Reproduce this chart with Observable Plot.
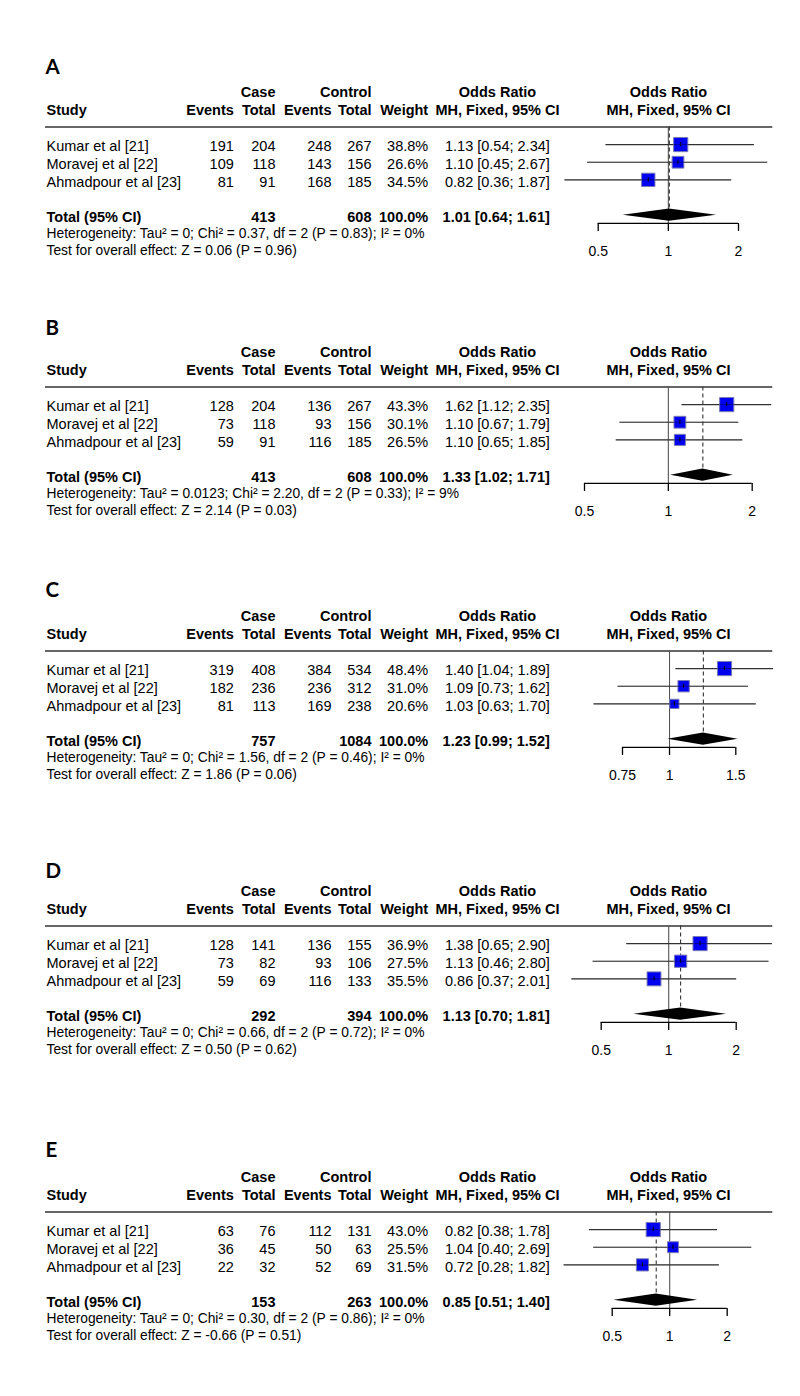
<!DOCTYPE html>
<html><head><meta charset="utf-8">
<script src="https://cdn.jsdelivr.net/npm/d3@7"></script>
<script src="https://cdn.jsdelivr.net/npm/@observablehq/plot@0.6"></script>
<style>
body{margin:0;background:#fff;}
#root{position:relative;width:800px;height:1396px;background:#fff;overflow:hidden;}
#root svg{position:absolute;left:0;background:none;}
</style></head><body><div id="root"></div>
<script>
// ---------- data ----------
const panelLabels = ["A", "B", "C", "D", "E"];
const studies = ["Kumar et al [21]", "Moravej et al [22]", "Ahmadpour et al [23]"];
const caseEvents = [[191, 109, 81], [128, 73, 59], [319, 182, 81], [128, 73, 59], [63, 36, 22]];
const caseTotal  = [[204, 118, 91], [204, 118, 91], [408, 236, 113], [141, 82, 69], [76, 45, 32]];
const ctrlEvents = [[248, 143, 168], [136, 93, 116], [384, 236, 169], [136, 93, 116], [112, 50, 52]];
const ctrlTotal  = [[267, 156, 185], [267, 156, 185], [534, 312, 238], [155, 106, 133], [131, 63, 69]];
const weights    = [[38.8, 26.6, 34.5], [43.3, 30.1, 26.5], [48.4, 31.0, 20.6], [36.9, 27.5, 35.5], [43.0, 25.5, 31.5]];
const oddsRatio  = [[1.13, 1.10, 0.82], [1.62, 1.10, 1.10], [1.40, 1.09, 1.03], [1.38, 1.13, 0.86], [0.82, 1.04, 0.72]];
const ciLower    = [[0.54, 0.45, 0.36], [1.12, 0.67, 0.65], [1.04, 0.73, 0.63], [0.65, 0.46, 0.37], [0.38, 0.40, 0.28]];
const ciUpper    = [[2.34, 2.67, 1.87], [2.35, 1.79, 1.85], [1.89, 1.62, 1.70], [2.90, 2.80, 2.01], [1.78, 2.69, 1.82]];
const totalCase  = [413, 413, 757, 292, 153];
const totalCtrl  = [608, 608, 1084, 394, 263];
const totalOR    = [1.01, 1.33, 1.23, 1.13, 0.85];
const totalLower = [0.64, 1.02, 0.99, 0.70, 0.51];
const totalUpper = [1.61, 1.71, 1.52, 1.81, 1.40];
const hetTau2    = ["0", "0.0123", "0", "0", "0"];
const hetChi2    = ["0.37", "2.20", "1.56", "0.66", "0.30"];
const hetDf      = [2, 2, 2, 2, 2];
const hetP       = ["0.83", "0.33", "0.46", "0.72", "0.86"];
const hetI2      = ["0%", "9%", "0%", "0%", "0%"];
const testZ      = ["0.06", "2.14", "1.86", "0.50", "-0.66"];
const testP      = ["0.96", "0.03", "0.06", "0.62", "0.51"];
const tickValues = [[0.5, 1, 2], [0.5, 1, 2], [0.75, 1, 1.5], [0.5, 1, 2], [0.5, 1, 2]];

// ---------- layout ----------
const rowPx = 17.65;
const yDomain = [-4.5, 8];
const row1Px = [144, 404, 668.3, 942.7, 1229];
const letterRow = [-3.35, -3.31, -3.44, -3.08, -3.48];
const tickPx = [[597.7, 738], [584, 751.7], [622, 735.3], [600.7, 735.7], [611.7, 726.7]];
const font = "'Liberation Sans', Arial, sans-serif";
const col = {study: 46, caseEv: 233.3, caseTot: 275, ctrlEv: 331, ctrlTot: 371, weight: 427.7, or: 549.3, orCenter: 497, forestCenter: 668};

const fmt2 = v => v.toFixed(2);
const root = document.getElementById("root");

panelLabels.forEach((label, p) => {
  const rows = studies.map((s, i) => ({
    row: i + 1, study: s,
    ce: caseEvents[p][i], ct: caseTotal[p][i], xe: ctrlEvents[p][i], xt: ctrlTotal[p][i],
    w: weights[p][i], or: oddsRatio[p][i], lo: ciLower[p][i], hi: ciUpper[p][i]
  }));
  const totalRow = 5, hetRow = 5.95, testRow = 6.87, axisRow = 5.47, labelRow = 7.02;
  const dh = 0.35;
  const diamond = [
    {y: totalRow - dh, x1: totalOR[p], x2: totalOR[p]},
    {y: totalRow, x1: totalLower[p], x2: totalUpper[p]},
    {y: totalRow + dh, x1: totalOR[p], x2: totalOR[p]}
  ];
  const ticks = tickValues[p];

  const T = (data, o) => Plot.text(data, {
    frameAnchor: "left", dx: o.x, y: o.y, text: o.text,
    textAnchor: o.anchor || "end", fontWeight: o.bold ? 700 : 400,
    fontSize: o.size || 14.5, fontFamily: o.family || font, fill: "#000", dy: o.dy ?? 2
  });
  const one = (t, o) => T([t], {...o, text: d => d});

  const marks = [
    // panel letter
    one(label, {x: 45, y: letterRow[p], anchor: "start", bold: true, size: 20.5, family: "Lato, 'Open Sans', sans-serif", dy: 0}),
    // headers
    one("Case", {x: col.caseTot, y: -2.06, bold: true}),
    one("Control", {x: col.ctrlTot, y: -2.06, bold: true}),
    one("Odds Ratio", {x: col.orCenter, y: -2.06, bold: true, anchor: "middle"}),
    one("Odds Ratio", {x: col.forestCenter, y: -2.06, bold: true, anchor: "middle"}),
    one("Study", {x: col.study, y: -1.06, bold: true, anchor: "start"}),
    one("Events", {x: col.caseEv, y: -1.06, bold: true}),
    one("Total", {x: col.caseTot, y: -1.06, bold: true}),
    one("Events", {x: col.ctrlEv, y: -1.06, bold: true}),
    one("Total", {x: col.ctrlTot, y: -1.06, bold: true}),
    one("Weight", {x: col.weight, y: -1.06, bold: true}),
    one("MH, Fixed, 95% CI", {x: col.orCenter, y: -1.06, bold: true, anchor: "middle"}),
    one("MH, Fixed, 95% CI", {x: col.forestCenter, y: -1.06, bold: true, anchor: "middle"}),
    // header rule
    Plot.ruleY([0], {y: d => d, insetLeft: 45, insetRight: 27.7, stroke: "#333", strokeWidth: 1.6}),
    // study rows
    T(rows, {x: col.study, y: "row", text: "study", anchor: "start"}),
    T(rows, {x: col.caseEv, y: "row", text: d => String(d.ce)}),
    T(rows, {x: col.caseTot, y: "row", text: d => String(d.ct)}),
    T(rows, {x: col.ctrlEv, y: "row", text: d => String(d.xe)}),
    T(rows, {x: col.ctrlTot, y: "row", text: d => String(d.xt)}),
    T(rows, {x: col.weight, y: "row", text: d => d.w.toFixed(1) + "%"}),
    T(rows, {x: col.or, y: "row", text: d => `${fmt2(d.or)} [${fmt2(d.lo)}; ${fmt2(d.hi)}]`}),
    // total row
    one("Total (95% CI)", {x: col.study, y: totalRow, bold: true, anchor: "start"}),
    one(String(totalCase[p]), {x: col.caseTot, y: totalRow, bold: true}),
    one(String(totalCtrl[p]), {x: col.ctrlTot, y: totalRow, bold: true}),
    one("100.0%", {x: col.weight, y: totalRow, bold: true}),
    one(`${fmt2(totalOR[p])} [${fmt2(totalLower[p])}; ${fmt2(totalUpper[p])}]`, {x: col.or, y: totalRow, bold: true}),
    one(`Heterogeneity: Tau\u00B2 = ${hetTau2[p]}; Chi\u00B2 = ${hetChi2[p]}, df = ${hetDf[p]} (P = ${hetP[p]}); I\u00B2 = ${hetI2[p]}`,
        {x: col.study, y: hetRow, anchor: "start", size: 13.8}),
    one(`Test for overall effect: Z = ${testZ[p]} (P = ${testP[p]})`, {x: col.study, y: testRow, anchor: "start", size: 13.8}),
    // forest: reference lines
    Plot.ruleX([1], {x: d => d, y1: 0, y2: axisRow, stroke: "#555", strokeWidth: 1.1}),
    Plot.ruleX([totalOR[p]], {x: d => d, y1: 0, y2: totalRow - dh, stroke: "#333", strokeWidth: 1.1, strokeDasharray: "4,3"}),
    // CI lines
    Plot.ruleY(rows, {y: "row", x1: "lo", x2: "hi", stroke: "#4a4a4a", strokeWidth: 1.2}),
    // squares
    Plot.dot(rows, {x: "or", y: "row", r: "w", symbol: "square", fill: "#0000f0", stroke: "#7a7ab8", strokeWidth: 1}),
    Plot.ruleY(rows, {y: "row", x1: "lo", x2: "hi", stroke: "#000", strokeOpacity: 0.45, strokeWidth: 0.8}),
    Plot.ruleX(rows, {x: "or", y1: d => d.row - 0.12, y2: d => d.row + 0.12, stroke: "#000", strokeWidth: 1}),
    // diamond
    Plot.areaX(diamond, {y: "y", x1: "x1", x2: "x2", fill: "#000", curve: "linear"}),
    // axis
    Plot.ruleY([axisRow], {y: d => d, x1: ticks[0], x2: ticks[ticks.length - 1], stroke: "#000", strokeWidth: 1.3}),
    Plot.ruleX(ticks, {x: d => d, y1: axisRow, y2: axisRow + 0.45, stroke: "#000", strokeWidth: 1.3}),
    Plot.text(ticks, {x: d => d, y: labelRow, text: d => String(d), fontSize: 14, fontFamily: font, fill: "#000", dy: 0.5})
  ];

  const h = (yDomain[1] - yDomain[0]) * rowPx;
  const svg = Plot.plot({
    width: 800, height: h,
    marginLeft: 0, marginRight: 0, marginTop: 0, marginBottom: 0,
    style: {background: "none", overflow: "visible"},
    x: {type: "log", domain: [ticks[0], ticks[ticks.length - 1]], range: tickPx[p], axis: null},
    y: {type: "linear", domain: yDomain, range: [0, h], axis: null},
    r: {type: "sqrt", domain: [0, d3.max(weights[p])], range: [0, 8]},
    marks
  });
  svg.style.top = (row1Px[p] - (1 - yDomain[0]) * rowPx) + "px";
  root.appendChild(svg);
});
</script></body></html>
